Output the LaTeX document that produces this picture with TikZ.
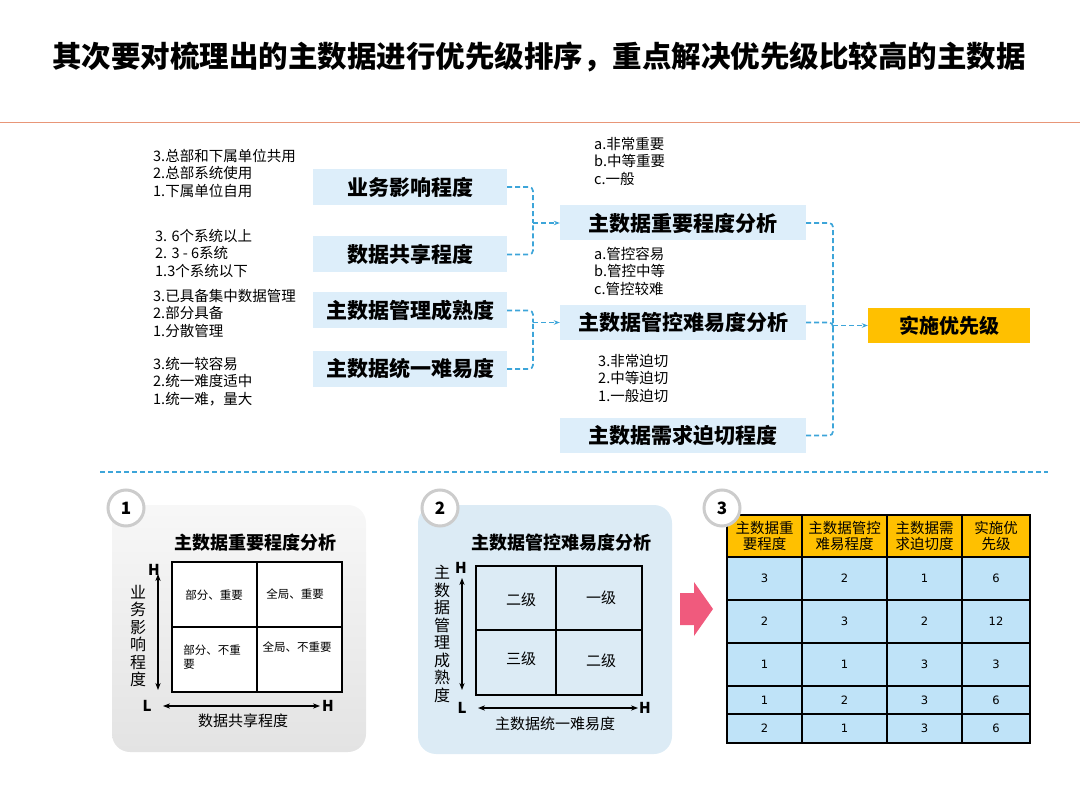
\documentclass[tikz,border=0pt]{standalone}
\usepackage{fontspec}
\setmainfont{Noto Sans CJK SC}
\newfontfamily\numfont{DejaVu Sans}
\usetikzlibrary{arrows.meta}
\definecolor{boxblue}{HTML}{DDEEFA}
\definecolor{lineblue}{HTML}{3DA5D9}
\definecolor{gold}{HTML}{FFC000}
\definecolor{cellblue}{HTML}{BFE3F8}
\definecolor{panelblue}{HTML}{DCEBF5}
\definecolor{pinkarrow}{HTML}{F05A7D}
\definecolor{orangeline}{HTML}{E89678}
\tikzset{
 lbox/.style={fill=boxblue,minimum width=194pt,minimum height=36pt,font=\fontsize{21}{23}\selectfont\bfseries,inner sep=0},
 mbox/.style={fill=boxblue,minimum width=246pt,minimum height=35pt,font=\fontsize{21}{23}\selectfont\bfseries,inner sep=0},
 lst/.style={anchor=north west,align=left,font=\fontsize{14.5}{17.5}\selectfont,inner sep=0},
 dline/.style={draw=lineblue,dash pattern=on 5pt off 3pt,line width=1.7pt},
 dcon/.style={dline,-{Stealth[length=6pt]}},
 cell/.style={font=\fontsize{11.5}{13.5}\selectfont},
 ptitle/.style={font=\fontsize{18}{20}\selectfont\bfseries},
 vlab/.style={align=center,font=\fontsize{16}{17.5}\selectfont,inner sep=0},
 ax/.style={{Stealth[length=7pt]}-{Stealth[length=7pt]},line width=1.6pt},
 hl/.style={font=\fontsize{15}{17}\selectfont\itshape\bfseries},
 num/.style={draw=gray!40,line width=3pt,fill=white,circle,minimum size=36pt,font=\fontsize{17}{19}\selectfont\bfseries},
}
\begin{document}
\begin{tikzpicture}[x=1pt,y=-1pt]
\useasboundingbox (0,0) rectangle (1080,810);
\node (title) at (539,57) {\fontsize{29.5}{32}\selectfont\bfseries 其次要对梳理出的主数据进行优先级排序，重点解决优先级比较高的主数据};
\draw[orangeline,line width=1pt] (0,123) -- (1080,123);
% left boxes
\node[lbox] (b1) at (410,187) {业务影响程度};
\node[lbox] (b2) at (410,254.5) {数据共享程度};
\node[lbox] (b3) at (410,310.5) {主数据管理成熟度};
\node[lbox] (b4) at (410,369) {主数据统一难易度};
\node[lst] (l1) at (153,149) {3.总部和下属单位共用\\2.总部系统使用\\1.下属单位自用};
\node[lst] (l2) at (155,229) {3. 6个系统以上\\2. 3 - 6系统\\1.3个系统以下};
\node[lst] (l3) at (153,289) {3.已具备集中数据管理\\2.部分具备\\1.分散管理};
\node[lst] (l4) at (153,357) {3.统一较容易\\2.统一难度适中\\1.统一难，量大};
% middle boxes
\node[mbox] (m1) at (683,223) {主数据重要程度分析};
\node[mbox] (m2) at (683,322.5) {主数据管控难易度分析};
\node[mbox] (m3) at (683,435.5) {主数据需求迫切程度};
\node[lst] (ml1) at (594,137) {a.非常重要\\b.中等重要\\c.一般};
\node[lst] (ml2) at (594,247) {a.管控容易\\b.管控中等\\c.管控较难};
\node[lst] (ml3) at (598,354) {3.非常迫切\\2.中等迫切\\1.一般迫切};
\node[fill=gold,minimum width=162pt,minimum height=35pt,font=\fontsize{20}{22}\selectfont\bfseries,inner sep=0] (goal) at (949,325.5) {实施优先级};
% connectors
\coordinate (j1) at (533,223);
\coordinate (j2) at (533,322.5);
\coordinate (j3) at (833,325.5);
\draw[dline,rounded corners=4pt] (b1.east) -| (j1) (b2.east) -| (j1);
\draw[dcon] (j1) -- (m1.west);
\draw[dline,rounded corners=4pt] (b3.east) -| (j2) (b4.east) -| (j2);
\draw[dcon] (j2) -- (m2.west);
\draw[dline,rounded corners=4pt] (m1.east) -| (j3) (m2.east) -| (j3) (m3.east) -| (j3);
\draw[dcon] (j3) -- (goal.west);
\draw[dline,line width=1.3pt] (100,472) -- (1048,472);
% panel 1
\shade[top color=gray!6,bottom color=gray!22,rounded corners=18pt] (112,505) rectangle (366,752);
\node[num] (n1) at (126,508) {1};
\node[ptitle] (t1) at (255,543) {主数据重要程度分析};
\draw[line width=2.5pt,fill=white] (172,562) rectangle (342,692);
\draw[line width=1.2pt] (257,562) -- (257,692) (172,627) -- (342,627);
\node[cell] at (214,595) {部分、重要};
\node[cell] at (295,594) {全局、重要};
\node[cell,align=left] at (212,657) {部分、不重\\要};
\node[cell] at (297,647) {全局、不重要};
\coordinate (a1t) at (158,574); \coordinate (a1b) at (158,690);
\draw[ax] (a1t) -- (a1b);
\coordinate (a1l) at (163,706); \coordinate (a1r) at (320,706);
\draw[ax] (a1l) -- (a1r);
\node[hl] at (154,570) {H};
\node[hl] at (147,706) {L};
\node[hl] at (328,706) {H};
\node[vlab] at (138,636) {业\\务\\影\\响\\程\\度};
\node[font=\fontsize{15}{17}\selectfont] at (243,721) {数据共享程度};
% panel 2
\fill[panelblue,rounded corners=18pt] (418,505) rectangle (672,754);
\node[num] (n2) at (440,508) {2};
\node[ptitle] (t2) at (561,543) {主数据管控难易度分析};
\draw[line width=2.5pt] (476,566) rectangle (642,695);
\draw[line width=1.2pt] (556,566) -- (556,695) (476,630) -- (642,630);
\node[font=\fontsize{15}{17}\selectfont] at (521,600) {二级};
\node[font=\fontsize{15}{17}\selectfont] at (601,598) {一级};
\node[font=\fontsize{15}{17}\selectfont] at (521,659) {三级};
\node[font=\fontsize{15}{17}\selectfont] at (601,661) {二级};
\coordinate (a2t) at (462,578); \coordinate (a2b) at (462,690);
\draw[ax] (a2t) -- (a2b);
\coordinate (a2l) at (478,708); \coordinate (a2r) at (638,708);
\draw[ax] (a2l) -- (a2r);
\node[hl] at (461,568) {H};
\node[hl] at (462,708) {L};
\node[hl] at (645,708) {H};
\node[vlab] at (442,634) {主\\数\\据\\管\\理\\成\\熟\\度};
\node[font=\fontsize{15}{17}\selectfont] at (555,724) {主数据统一难易度};
% pink arrow
\fill[pinkarrow] (680,593) -- (694,593) -- (694,582) -- (713,609) -- (694,636) -- (694,625) -- (680,625) -- cycle;
% table
\fill[gold] (727,515) rectangle (1030,557);
\fill[cellblue] (727,557) rectangle (1030,743);
\draw[line width=1.2pt] (727,515) rectangle (1030,743);
\foreach \x in {802,887,962} \draw[line width=1.2pt] (\x,515) -- (\x,743);
\foreach \y in {557,600,643,686,714} \draw[line width=1.2pt] (727,\y) -- (1030,\y);
\node[num] (n3) at (722,508) {3};
\foreach \t/\x in {主数据重\\要程度/764.5,主数据管控\\难易程度/844.5,主数据需\\求迫切度/924.5,实施优\\先级/996}
  \node[align=center,font=\fontsize{14.5}{16}\selectfont] at (\x,536) {\t};
\foreach \y/\a/\b/\c/\d in {578.5/3/2/1/6,621.5/2/3/2/12,664.5/1/1/3/3,700/1/2/3/6,728.5/2/1/3/6}{
  \node[font=\numfont\fontsize{11.5}{13}\selectfont] at (764.5,\y) {\a};
  \node[font=\numfont\fontsize{11.5}{13}\selectfont] at (844.5,\y) {\b};
  \node[font=\numfont\fontsize{11.5}{13}\selectfont] at (924.5,\y) {\c};
  \node[font=\numfont\fontsize{11.5}{13}\selectfont] at (996,\y) {\d};
}
\end{tikzpicture}
\end{document}
